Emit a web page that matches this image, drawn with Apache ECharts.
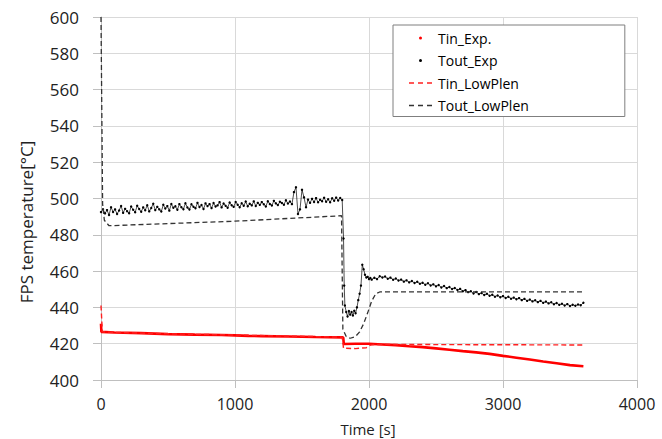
<!DOCTYPE html>
<html><head><meta charset="utf-8">
<script src="https://cdn.jsdelivr.net/npm/echarts@6/dist/echarts.min.js"></script>
<style>html,body{margin:0;padding:0;background:#fff}#c{width:662px;height:439px}</style>
</head><body><div id="c"></div>
<script>
// ---- axis ranges / ticks ----
const xMin = 0, xMax = 4000, xStep = 1000;
const yMin = 400, yMax = 600, yStep = 20;
const xTitle = 'Time [s]';
const yTitle = 'FPS temperature[°C]';
const seriesNames = ['Tin_Exp.', 'Tout_Exp', 'Tin_LowPlen', 'Tout_LowPlen'];

// ---- Tin_Exp (measured inlet) [time, value] ----
const tinExp = [[0,431],[3,426.5],[100,426.2],[300,425.8],[500,425.3],[700,425],[900,424.8],[1000,424.6],
  [1100,424.3],[1200,424.2],[1400,424],[1600,423.7],[1800,423.5],[1808,423.4],[1812,419.8],[1900,420],
  [2000,420],[2100,419.6],[2200,419.2],[2300,418.6],[2400,418.1],[2500,417.4],[2600,416.7],[2700,415.9],
  [2800,415.2],[2900,414.4],[3000,413.3],[3100,412.3],[3200,411.3],[3300,410.2],[3400,409.2],[3500,408.2],[3600,407.6]];

// ---- Tout_Exp (measured outlet) ----
const toutExpPreStart = 0, toutExpPreStep = 15;   // sampled every 15 s
const toutExpPre = [
  492.5,494.1,491.8,493.6,490.9,495.2,492.6,494.0,491.5,493.4,
  495.9,492.1,494.3,493.0,491.9,495.6,493.8,492.4,496.0,494.2,
  492.7,495.1,493.5,496.3,492.9,494.8,497.1,493.6,495.4,494.0,
  492.8,496.6,494.5,495.8,493.3,497.0,494.9,495.7,493.8,496.9,
  495.2,494.1,497.4,495.0,493.9,496.8,495.5,494.6,497.6,495.3,
  496.4,494.2,497.3,495.8,496.9,494.7,497.5,495.6,496.2,498.0,
  495.1,497.2,496.0,494.9,497.8,496.3,495.4,498.1,496.6,495.2,
  497.4,496.0,498.3,495.7,497.1,496.2,498.4,495.9,497.6,496.5,
  498.0,496.8,495.6,498.5,497.0,496.1,498.7,497.3,496.4,498.2,
  497.5,496.6,499.0,497.2,498.3,496.9,503.5,506.2,491.5,494.0,
  504.8,500.6,495.2,499.4,497.6,499.8,498.1,500.2,497.9,499.3,
  498.5,500.4,498.2,499.6,497.9,500.1,498.8,500.5,498.9,500.3,
  499.2];
const toutExpTrans = [[1810,478],[1815,452],[1820,441],[1830,437.5],[1840,435],[1850,438],[1860,436],
  [1870,437.5],[1880,435.5],[1890,438.2],[1900,436.8],[1910,440],[1920,444],[1930,447.5],[1940,452],
  [1950,463.5],[1960,461],[1970,458],[1980,456.5],[1990,456.8],[2000,455.6],[2010,456.2],[2020,455.3]];
const toutExpPostStart = 2040, toutExpPostStep = 20;  // sampled every 20 s
const toutExpPost = [
  456.3,455.6,457.2,456.5,457.0,455.8,456.4,455.2,455.9,454.8,
  455.3,454.2,454.9,453.8,454.5,453.4,454.1,453.0,453.6,452.5,
  453.3,452.1,452.7,451.6,452.3,451.0,451.8,450.6,451.2,450.1,
  450.7,449.6,450.2,448.9,449.5,448.4,448.9,447.7,448.5,447.3,
  447.9,446.8,447.5,446.4,447.0,445.9,446.6,445.6,446.2,445.2,
  445.9,444.8,445.4,444.5,445.1,444.0,444.7,443.6,444.3,443.3,
  443.9,442.9,443.6,442.5,443.2,442.2,442.8,441.7,442.4,441.4,
  442.0,441.0,441.8,440.8,441.5,440.9,441.6,441.2,442.6];

// ---- LowPlen simulation ----
const tinLowPlen = [[0,441],[10,426.5],[200,426],[600,425.3],[1000,424.8],[1400,424.2],[1800,423.6],
  [1810,417.5],[1900,417.3],[1980,417.8],[2010,419.2],[2040,419.6],[3600,419.3]];
const toutLowPlen = [[0,600],[12,497],[25,488],[60,485],[1000,487.5],[1795,490.5],[1805,428],[1830,424],
  [1860,423],[1900,424],[1930,426.5],[1960,431],[1990,437],[2020,443.5],[2050,447.5],[2080,448.5],[3600,448.5]];

// ---- build ----
const toutExp = toutExpPre.map((v, i) => [toutExpPreStart + i * toutExpPreStep, v])
  .concat(toutExpTrans)
  .concat(toutExpPost.map((v, i) => [toutExpPostStart + i * toutExpPostStep, v]));

const FONT = 'Open Sans';
const box = 'M0,0M25,0M25,14M0,14';
const dotIcon = 'path://' + box + 'M11,7a1.5,1.5 0 1 0 3,0a1.5,1.5 0 1 0 -3,0z';
const dashIcon = 'path://' + box + 'M1,6.3h5v1.4h-5zM10,6.3h5v1.4h-5zM19,6.3h5v1.4h-5z';
const gridColor = '#d9d9d9';
const axisColor = '#bfbfbf';

const chart = echarts.init(document.getElementById('c'), null, {renderer: 'svg'});
chart.setOption({
  animation: false,
  backgroundColor: '#fff',
  grid: {left: 101, right: 25, top: 17, bottom: 59, outerBoundsMode: 'none'},
  legend: {
    orient: 'vertical', left: 393, top: 25,
    padding: [6, 96, 4, 15],
    borderColor: '#7f7f7f', borderWidth: 1, backgroundColor: '#fff',
    itemWidth: 25, itemHeight: 14, itemGap: 8.5,
    textStyle: {fontFamily: FONT, fontSize: 14, color: '#000'},
    itemStyle: {borderWidth: 0},
    data: [
      {name: seriesNames[0], icon: dotIcon, itemStyle: {color: '#ff0000'}},
      {name: seriesNames[1], icon: dotIcon, itemStyle: {color: '#000'}},
      {name: seriesNames[2], icon: dashIcon, itemStyle: {color: '#ff2020'}},
      {name: seriesNames[3], icon: dashIcon, itemStyle: {color: '#333'}}
    ]
  },
  xAxis: {
    type: 'value', min: xMin, max: xMax, interval: xStep,
    axisLine: {show: true, lineStyle: {color: axisColor}},
    axisTick: {show: true, length: 8, lineStyle: {color: axisColor}},
    splitLine: {show: true, lineStyle: {color: gridColor, width: 1}},
    axisLabel: {fontFamily: FONT, fontSize: 16, lineHeight: 16, color: '#222', margin: 16, formatter: v => String(v)}
  },
  yAxis: {
    type: 'value', min: yMin, max: yMax, interval: yStep,
    axisLine: {show: true, lineStyle: {color: axisColor}},
    axisTick: {show: true, length: 8, lineStyle: {color: axisColor}},
    splitLine: {show: true, lineStyle: {color: gridColor, width: 1}},
    axisLabel: {fontFamily: FONT, fontSize: 17, color: '#222', margin: 22, formatter: v => String(v)}
  },
  graphic: [
    {type: 'text', x: 368, y: 428.5, style: {text: xTitle, font: '15px "' + FONT + '"', lineHeight: 15, fill: '#222', align: 'center', verticalAlign: 'middle'}},
    {type: 'text', x: 26, y: 222, rotation: Math.PI / 2, style: {text: yTitle, font: '17px "' + FONT + '"', fill: '#222', align: 'center', verticalAlign: 'middle'}}
  ],
  series: [
    {name: seriesNames[0], type: 'line', data: tinExp, symbol: 'none', color: '#ff0000',
     lineStyle: {color: '#ff0000', width: 2.6}, z: 2},
    {name: seriesNames[1], type: 'line', data: toutExp, symbol: 'circle', symbolSize: 2.4, showSymbol: true,
     color: '#000', itemStyle: {color: '#000'}, lineStyle: {color: '#000', width: 0.7}, z: 3},
    {name: seriesNames[2], type: 'line', data: tinLowPlen, symbol: 'none', color: '#ff2020',
     lineStyle: {color: '#ff2020', width: 1.4, type: [5, 3]}, z: 4},
    {name: seriesNames[3], type: 'line', data: toutLowPlen, symbol: 'none', color: '#333',
     lineStyle: {color: '#333', width: 1.3, type: [5, 3]}, z: 5}
  ]
});
</script></body></html>
